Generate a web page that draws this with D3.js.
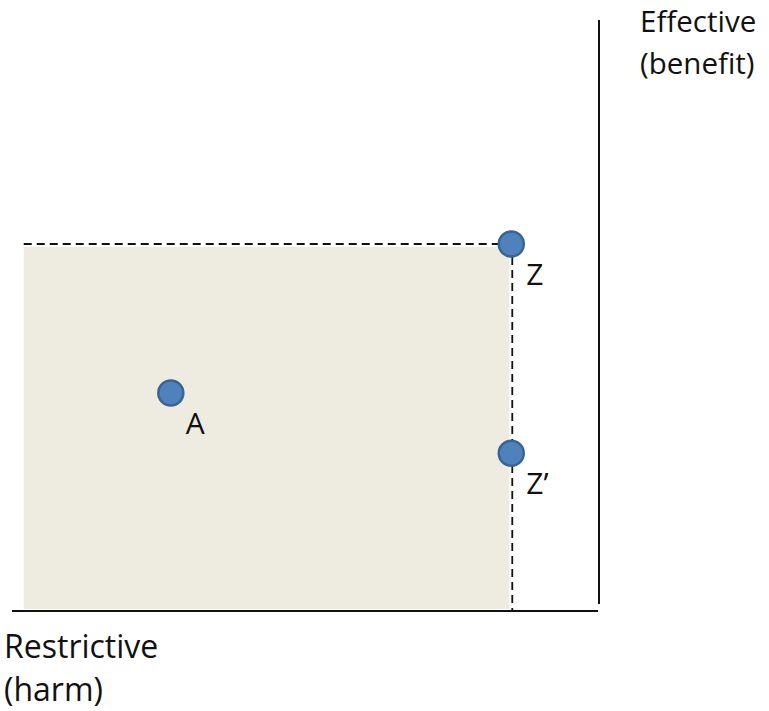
<!DOCTYPE html>
<html>
<head>
<meta charset="utf-8">
<script src="https://cdn.jsdelivr.net/npm/d3@7"></script>
<style>
  body { margin: 0; background: #fff; }
  text { font-family: "Open Sans", sans-serif; fill: #111; }
</style>
</head>
<body>
<div id="wrapper"></div>
<script>
// abstract coordinates: 0..100 on each axis
const pointNames = ["A", "Z", "Z\u2019"];
const pointX = [27.1, 85.2, 85.2];
const pointY = [36.9, 62.1, 26.7];
const regionX = [2, 85.2];
const regionY = [0, 62.1];
const xLabel = ["Restrictive", "(harm)"];
const yLabel = ["Effective", "(benefit)"];

const dimensions = { width: 769, height: 711 };

const svg = d3.select("#wrapper")
    .append("svg")
    .attr("width", dimensions.width)
    .attr("height", dimensions.height);

const xScale = d3.scaleLinear().domain([0, 100]).range([12, 598]);
const yScale = d3.scaleLinear().domain([0, 100]).range([611, 20]);

// shaded region
svg.append("rect")
    .attr("x", xScale(regionX[0]))
    .attr("y", yScale(regionY[1]) + 3)
    .attr("width", xScale(regionX[1]) - xScale(regionX[0]) - 2)
    .attr("height", yScale(regionY[0]) - yScale(regionY[1]) - 5)
    .attr("fill", "#eeebe1");

// dashed guides to Z
svg.append("line")
    .attr("x1", xScale(regionX[0])).attr("x2", xScale(regionX[1]))
    .attr("y1", yScale(regionY[1])).attr("y2", yScale(regionY[1]))
    .attr("stroke", "#111").attr("stroke-width", 1.8)
    .attr("stroke-dasharray", "8 5");

svg.append("line")
    .attr("x1", xScale(regionX[1]) + 1).attr("x2", xScale(regionX[1]) + 1)
    .attr("y1", yScale(regionY[1])).attr("y2", yScale(regionY[0]))
    .attr("stroke", "#111").attr("stroke-width", 1.8)
    .attr("stroke-dasharray", "8 5");

// axes
svg.append("line")
    .attr("x1", xScale(0)).attr("x2", xScale(100))
    .attr("y1", yScale(0)).attr("y2", yScale(0))
    .attr("stroke", "#111").attr("stroke-width", 2);

svg.append("line")
    .attr("x1", xScale(100) + 1).attr("x2", xScale(100) + 1)
    .attr("y1", yScale(100)).attr("y2", yScale(0) - 7)
    .attr("stroke", "#111").attr("stroke-width", 2);

// points
const pts = pointNames.map((n, i) => ({ name: n, x: pointX[i], y: pointY[i] }));

svg.selectAll(".pt")
    .data(pts)
    .enter()
    .append("circle")
    .attr("class", "pt")
    .attr("cx", d => xScale(d.x))
    .attr("cy", d => yScale(d.y))
    .attr("r", 12.5)
    .attr("fill", "#4f81bd")
    .attr("stroke", "#3a6491")
    .attr("stroke-width", 2.5);

svg.selectAll(".pt-label")
    .data(pts)
    .enter()
    .append("text")
    .attr("class", "pt-label")
    .attr("x", d => xScale(d.x) + 15)
    .attr("y", d => yScale(d.y) + 41)
    .attr("font-size", "30px")
    .text(d => d.name);

// axis titles
svg.append("text")
    .attr("x", 4)
    .attr("y", 658)
    .attr("font-size", "32px")
    .selectAll("tspan")
    .data(xLabel)
    .enter()
    .append("tspan")
    .attr("x", 4)
    .attr("dy", (d, i) => i === 0 ? 0 : 43)
    .text(d => d);

svg.append("text")
    .attr("x", 640)
    .attr("y", 32)
    .attr("font-size", "29.5px")
    .selectAll("tspan")
    .data(yLabel)
    .enter()
    .append("tspan")
    .attr("x", 640)
    .attr("dy", (d, i) => i === 0 ? 0 : 42)
    .text(d => d);
</script>
</body>
</html>
